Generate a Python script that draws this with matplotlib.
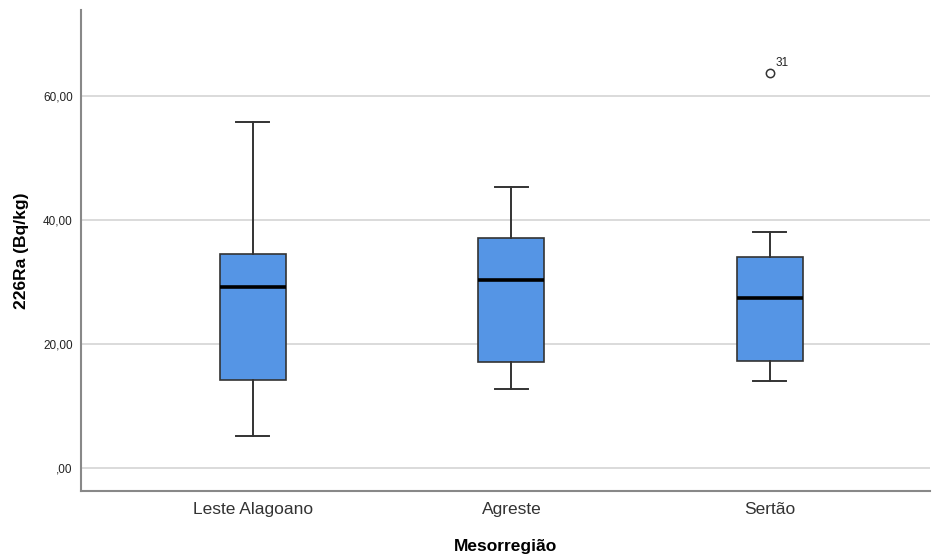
import matplotlib
matplotlib.use("Agg")
import matplotlib.pyplot as plt

plt.rcParams['font.family'] = ['Liberation Sans', 'DejaVu Sans']

# box statistics
regioes = ["Leste Alagoano", "Agreste", "Sertão"]
whislo = [5.2, 12.8, 14.0]
q1 = [14.3, 17.2, 17.3]
med = [29.3, 30.4, 27.4]
q3 = [34.5, 37.1, 34.0]
whishi = [55.8, 45.3, 38.1]
fliers = [[], [], [63.7]]
flier_ids = [[], [], ["31"]]

yticks = [0, 20, 40, 60]
ytick_labels = [",00", "20,00", "40,00", "60,00"]

stats = []
for i, nome in enumerate(regioes):
    stats.append(dict(label=nome, whislo=whislo[i], q1=q1[i], med=med[i],
                      q3=q3[i], whishi=whishi[i], fliers=fliers[i]))

fig = plt.figure(figsize=(9.33, 5.6), dpi=100)
ax = fig.add_axes([0.087, 0.123, 0.91, 0.859])

pos = [1, 2, 3]
ax.bxp(stats, positions=pos, widths=0.255, patch_artist=True,
       boxprops=dict(facecolor="#5595e5", edgecolor="#333333", linewidth=1.2),
       medianprops=dict(color="black", linewidth=2.6),
       whiskerprops=dict(color="#333333", linewidth=1.4),
       capprops=dict(color="#333333", linewidth=1.4),
       capwidths=0.128,
       flierprops=dict(marker="o", markersize=6, markerfacecolor="white",
                       markeredgecolor="#333333", markeredgewidth=1.1),
       zorder=3)

for i in range(len(regioes)):
    for v, lab in zip(fliers[i], flier_ids[i]):
        ax.annotate(lab, (pos[i], v), xytext=(4, 5), textcoords="offset points",
                    fontsize=8.5, color="#222222")

ax.set_xlim(0.336, 3.62)
ax.set_ylim(-3.7, 73.9)
ax.set_yticks(yticks)
ax.set_yticklabels(ytick_labels)
ax.yaxis.grid(True, color="#d4d4d4", linewidth=1.2, zorder=0)
ax.set_axisbelow(True)

ax.tick_params(axis="both", length=0)
ax.tick_params(axis="y", labelsize=8.5, labelcolor="#222222", pad=6)
ax.tick_params(axis="x", labelsize=12.5, labelcolor="#333333", pad=8)

for s in ["top", "right"]:
    ax.spines[s].set_visible(False)
for s in ["left", "bottom"]:
    ax.spines[s].set_color("#888888")
    ax.spines[s].set_linewidth(1.5)

ax.set_ylabel("226Ra (Bq/kg)", fontsize=12.5, fontweight="bold", labelpad=10)
ax.set_xlabel("Mesorregião", fontsize=12.5, fontweight="bold", labelpad=16)

fig.savefig("out.png", dpi=100, facecolor="white")
